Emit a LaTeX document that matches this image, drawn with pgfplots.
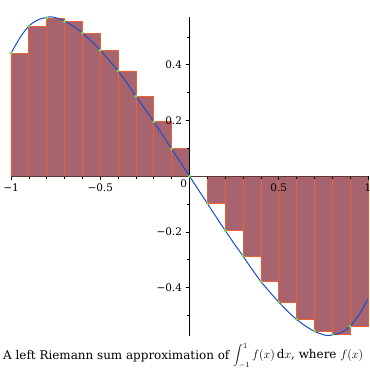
\documentclass[border=0pt]{standalone}
\usepackage{fontspec}
\setmainfont{DejaVu Serif}
\usepackage{pgfplots}
\pgfplotsset{compat=1.18}
\definecolor{barfill}{RGB}{168,100,110}
\definecolor{baredge}{RGB}{238,96,50}
\definecolor{curvecol}{RGB}{20,80,200}
\definecolor{dotcol}{RGB}{125,220,90}
\definecolor{xaxcol}{RGB}{95,55,50}
\begin{document}
\begin{tikzpicture}
\path[use as bounding box] (0,0) rectangle (370bp,370bp);
\clip (0,0) rectangle (370bp,370bp);
\begin{axis}[
  at={(11bp,34.2bp)}, anchor=south west,
  scale only axis, width=357bp, height=319.2bp,
  xmin=-1, xmax=1, ymin=-0.573, ymax=0.573,
  axis lines=middle, axis line style={-, line width=0.8pt},
  x axis line style={draw=xaxcol},
  axis on top=true,
  tick align=outside,
  major tick length=4bp, minor tick length=2.5bp,
  tick style={black, line width=0.7pt},
  xtick={-1,-0.5,0.5,1}, xticklabels={−1,−0.5,0.5,1},
  minor xtick={-0.9,-0.8,-0.7,-0.6,-0.4,-0.3,-0.2,-0.1,0.1,0.2,0.3,0.4,0.6,0.7,0.8,0.9},
  ytick={-0.4,-0.2,0.2,0.4}, yticklabels={−0.4,−0.2,0.2,0.4},
  minor ytick={-0.5,-0.3,-0.1,0.1,0.3,0.5},
  extra x ticks={0}, extra x tick labels={0},
  extra x tick style={major tick length=0pt, xticklabel style={anchor=north east, xshift=1bp}},
  ticklabel style={font=\fontsize{10.5}{12}\selectfont},
  clip=false,
]
\addplot[ybar interval, fill=barfill, draw=baredge, line width=0.8pt] coordinates {
(-1.0,0.441) (-0.9,0.539) (-0.8,0.568) (-0.7,0.556) (-0.6,0.514)
(-0.5,0.452) (-0.4,0.378) (-0.3,0.287) (-0.2,0.195) (-0.1,0.098)
(0.0,0.0) (0.1,-0.098) (0.2,-0.195) (0.3,-0.287) (0.4,-0.378)
(0.5,-0.452) (0.6,-0.514) (0.7,-0.556) (0.8,-0.568) (0.9,-0.539) (1.0,0)
};
\addplot[smooth, curvecol, line width=1pt] coordinates {
(-1.00,0.441) (-0.95,0.497) (-0.90,0.539) (-0.85,0.561) (-0.80,0.570)
(-0.775,0.572) (-0.75,0.569) (-0.70,0.557) (-0.65,0.538) (-0.60,0.514)
(-0.55,0.485) (-0.50,0.452) (-0.45,0.416) (-0.40,0.378) (-0.35,0.334)
(-0.30,0.287) (-0.25,0.242) (-0.20,0.195) (-0.15,0.147) (-0.10,0.098)
(-0.05,0.049) (0,0)
(0.05,-0.049) (0.10,-0.098) (0.15,-0.147) (0.20,-0.195) (0.25,-0.242)
(0.30,-0.287) (0.35,-0.334) (0.40,-0.378) (0.45,-0.416) (0.50,-0.452)
(0.55,-0.485) (0.60,-0.514) (0.65,-0.538) (0.70,-0.557) (0.75,-0.569)
(0.775,-0.572) (0.80,-0.570) (0.85,-0.561) (0.90,-0.539) (0.95,-0.497)
(1.00,-0.441)
};
\addplot[only marks, mark=*, mark size=1.3bp, dotcol, mark options={draw=none, fill=dotcol}] coordinates {
(-1.0,0.441) (-0.9,0.539) (-0.8,0.568) (-0.7,0.556) (-0.6,0.514)
(-0.5,0.452) (-0.4,0.378) (-0.3,0.287) (-0.2,0.195) (-0.1,0.098)
(0.0,0.0) (0.1,-0.098) (0.2,-0.195) (0.3,-0.287) (0.4,-0.378)
(0.5,-0.452) (0.6,-0.514) (0.7,-0.556) (0.8,-0.568) (0.9,-0.539)
};
\end{axis}
\node[anchor=base west, inner sep=0pt, font=\fontsize{12}{14}\selectfont] at (3bp,11bp)
  {A left Riemann sum approximation of $\displaystyle\int_{-1}^{1} f(x)\,\mathrm{d}x$, where $f(x)$};
\end{tikzpicture}
\end{document}
